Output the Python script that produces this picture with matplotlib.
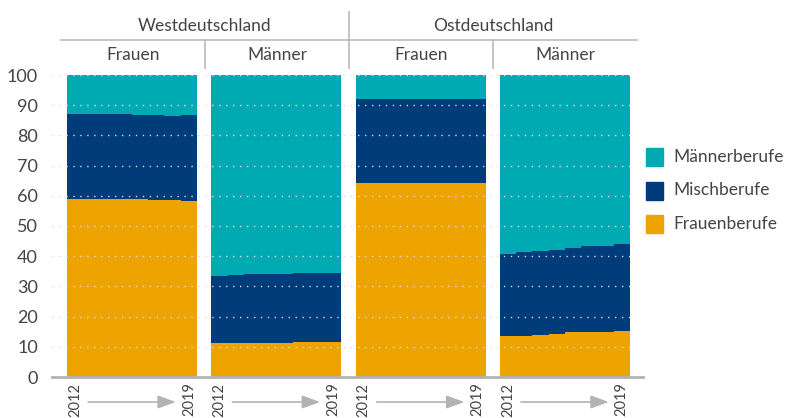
import numpy as np
import matplotlib
matplotlib.use("Agg")
import matplotlib.pyplot as plt
from matplotlib.transforms import blended_transform_factory
from matplotlib.patches import Rectangle

plt.rcParams['font.family'] = ['Lato', 'DejaVu Sans']

years = [2012, 2013, 2014, 2015, 2016, 2017, 2018, 2019]
regions = ["Westdeutschland", "Ostdeutschland"]
groups = ["Frauen", "Männer"]
categories = ["Frauenberufe", "Mischberufe", "Männerberufe"]
colors = ["#eda300", "#003b7a", "#00aab2"]

# shares in percent, per panel (West Frauen, West Männer, Ost Frauen, Ost Männer)
frauenberufe = [
    [59.0, 59.0, 59.0, 59.0, 59.0, 58.7, 58.7, 58.3],
    [11.3, 11.3, 11.3, 11.3, 11.3, 11.6, 11.6, 11.6],
    [64.3, 64.3, 64.3, 64.3, 64.3, 64.3, 64.3, 64.3],
    [13.6, 13.6, 13.9, 14.2, 14.9, 14.9, 14.9, 15.2],
]
mischberufe = [
    [28.2, 28.2, 28.2, 28.2, 27.9, 28.2, 27.8, 28.6],
    [22.2, 22.5, 22.8, 22.8, 22.8, 22.8, 22.8, 22.8],
    [27.7, 27.7, 27.7, 27.7, 27.7, 27.7, 27.7, 27.7],
    [27.1, 27.8, 27.8, 27.9, 27.8, 28.5, 28.5, 28.8],
]
maennerberufe = [
    [12.8, 12.8, 12.8, 12.8, 13.1, 13.1, 13.5, 13.1],
    [66.5, 66.2, 65.9, 65.9, 65.9, 65.6, 65.6, 65.6],
    [8.0, 8.0, 8.0, 8.0, 8.0, 8.0, 8.0, 8.0],
    [59.3, 58.6, 58.3, 57.9, 57.3, 56.6, 56.6, 56.0],
]

W, H = 792, 418
fig = plt.figure(figsize=(W / 100, H / 100), dpi=100)
ax = fig.add_axes([52 / W, (H - 377) / H, (643 - 52) / W, (377 - 75) / H])

n = len(years)
step = n + 0.88
txtc = "#444444"
linec = "#bbbbbb"

for p in range(4):
    x = p * step + np.arange(n + 1)
    base = np.zeros(n + 1)
    for vals, c in zip([frauenberufe[p], mischberufe[p], maennerberufe[p]], colors):
        v = np.append(vals, vals[-1])
        ax.fill_between(x, base, base + v, step='post', color=c, linewidth=0, zorder=1)
        base = base + v

ax.set_xlim(-0.92, (643 - 67) / 16.25)
ax.set_ylim(0, 100)
ax.set_yticks(range(0, 101, 10))
ax.tick_params(axis='y', length=0, pad=10, labelsize=13, labelcolor=txtc)
for s in ["top", "right", "left"]:
    ax.spines[s].set_visible(False)
ax.spines["bottom"].set_color("#b3b3b3")
ax.spines["bottom"].set_linewidth(2)
ax.spines["bottom"].set_zorder(3)

for yv in range(10, 101, 10):
    ax.axhline(yv, xmin=0, xmax=0.98, color="#dddddd", linewidth=1,
               linestyle=(0, (1, 4)), zorder=2)

# x ticks: first and last year of each panel
xt, xl = [], []
for p in range(4):
    xt += [p * step + 0.5, p * step + n - 0.5]
    xl += [str(years[0]), str(years[-1])]
ax.set_xticks(xt)
ax.set_xticklabels(xl, rotation=90, va='top', ha='center')
ax.tick_params(axis='x', length=0, pad=4, labelsize=10.5, labelcolor=txtc)

# arrows between years
tr_arrow = blended_transform_factory(ax.transData, fig.transFigure)
ay = (H - 402) / H
for p in range(4):
    ax.annotate("", xy=(p * step + 6.7, ay), xytext=(p * step + 1.3, ay),
                xycoords=tr_arrow, textcoords=tr_arrow,
                arrowprops=dict(arrowstyle="-|>,head_length=1.1,head_width=0.4",
                                color="#b3b3b3", lw=1.2, shrinkA=0, shrinkB=0))

# header
tr = blended_transform_factory(ax.transData, fig.transFigure)
def fy(py):
    return (H - py) / H

bounds = [-0.37 + k * 8.86 for k in range(5)]
for r in range(2):
    x0, x1 = bounds[2 * r], bounds[2 * r + 2]
    ax.plot([x0, x1], [fy(40), fy(40)], transform=tr, color=linec, lw=1.2, clip_on=False)
    ax.text((x0 + x1) / 2, fy(26), regions[r], transform=tr, ha='center', va='center',
            fontsize=12.5, color=txtc)
    for g in range(2):
        a, b = bounds[2 * r + g], bounds[2 * r + g + 1]
        ax.text((a + b) / 2, fy(55), groups[g], transform=tr, ha='center', va='center',
                fontsize=12.5, color=txtc)
    ax.plot([bounds[2 * r + 1]] * 2, [fy(40), fy(68)], transform=tr, color=linec,
            lw=1.2, clip_on=False)
ax.plot([bounds[2]] * 2, [fy(12), fy(68)], transform=tr, color=linec, lw=1.2, clip_on=False)

# legend
for i, (lab, c) in enumerate(zip(categories[::-1], colors[::-1])):
    cy = 157 + i * 33.5
    fig.patches.append(Rectangle(((646) / W, fy(cy + 9)), 17 / W, 18 / H,
                                 transform=fig.transFigure, color=c))
    fig.text(673 / W, fy(cy), lab, ha='left', va='center', fontsize=12.5, color=txtc)

fig.savefig("out.png", dpi=100)
